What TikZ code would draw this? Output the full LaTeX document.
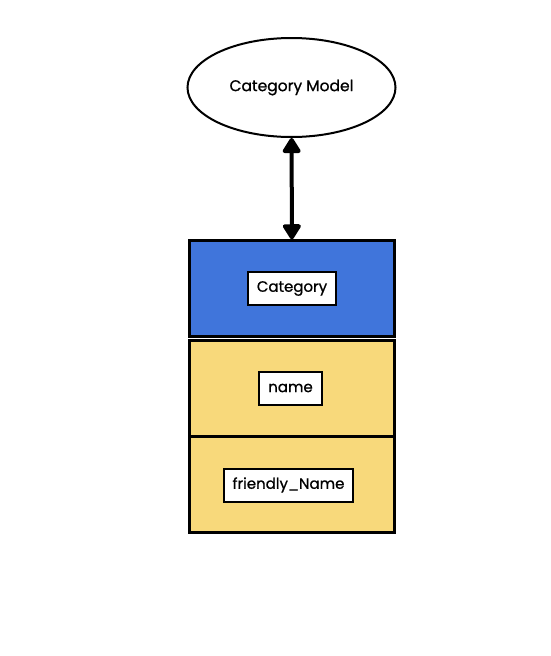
\documentclass[tikz,border=0pt]{standalone}
\usepackage{fontspec}
\setmainfont{Poppins}
\newfontfamily\skfont{Poppins}[FakeBold=0.9]
\usetikzlibrary{arrows.meta, shapes.geometric}
\definecolor{catblue}{RGB}{64,117,219}
\definecolor{fieldyel}{RGB}{248,217,123}

\begin{document}
\begin{tikzpicture}[x=1pt,y=-1pt,line width=2.4pt,
    box/.style={draw,minimum width=205pt,minimum height=96pt,inner sep=0pt},
    lbl/.style={draw,fill=white,line width=2pt,minimum height=33pt,inner xsep=9pt,
      font=\skfont\fontsize{15}{17}\selectfont},
    tip/.tip={Triangle[length=17pt,width=20pt,round]}]
    \useasboundingbox (0,0) rectangle (550,656);
    \node[draw,ellipse,line width=2pt,minimum width=208pt,minimum height=99pt,
      font=\skfont\fontsize{15.5}{17}\selectfont] (model) at (291.5,87.5) {Category Model};
    % the three boxes
    \node[box,fill=catblue] (cat) at (292,288.5) {};
    \node[box,fill=fieldyel] (nm) at (292,388.5) {};
    \node[box,fill=fieldyel] (fn) at (292,484.5) {};
    % labels inside
    \node[lbl] (catl) at (cat) {Category};
    \node[lbl] (nml) at (290.5,388) {name};
    \node[lbl] (fnl) at (288.5,485) {friendly\_Name};
    % model to box
    \draw[tip-tip,line width=4pt,line join=round] (model) -- (cat);
  \end{tikzpicture}
\end{document}
